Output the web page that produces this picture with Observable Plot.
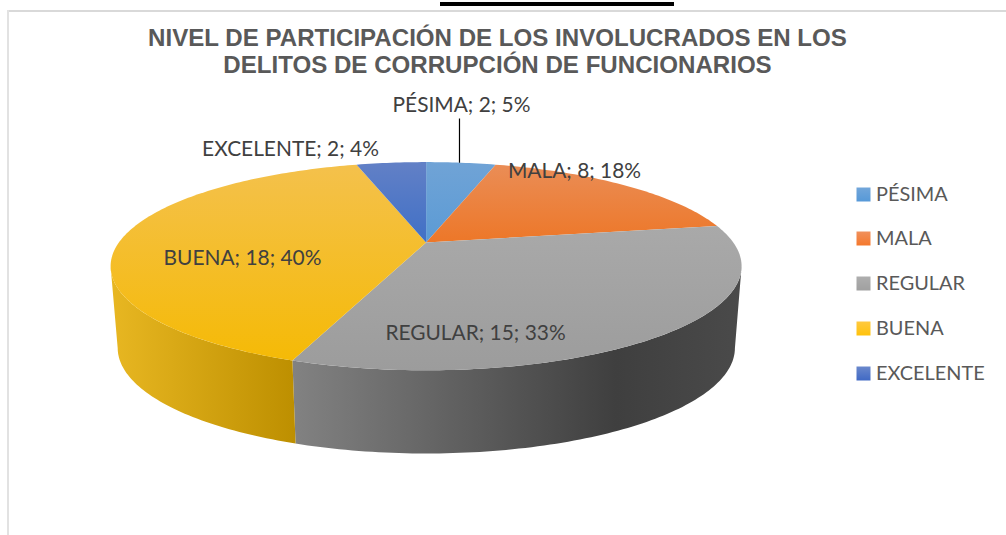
<!DOCTYPE html>
<html lang="es">
<head>
<meta charset="utf-8">
<script src="https://cdn.jsdelivr.net/npm/d3@7"></script>
<script src="https://cdn.jsdelivr.net/npm/@observablehq/plot@0.6"></script>
<style>
html,body{margin:0;padding:0;background:#fff;overflow:hidden}
svg{display:block}
</style>
</head>
<body>
<div id="chart"></div>
<script>
const categories = ["PÉSIMA", "MALA", "REGULAR", "BUENA", "EXCELENTE"];
const counts = [2, 8, 15, 18, 2];
const percents = [5, 18, 33, 40, 4];
const titleLines = ["NIVEL DE PARTICIPACIÓN DE LOS INVOLUCRADOS EN LOS", "DELITOS DE CORRUPCIÓN DE FUNCIONARIOS"];
const topGradients = [["#70a3d6", "#5b9bd5"], ["#ea8d56", "#ed7728"], ["#a9a9a9", "#9c9c9c"], ["#f4c14c", "#f5ba06"], ["#6280c6", "#4070c6"]];
const legendGradients = [["#72a6da", "#5699d8"], ["#f0905c", "#f5782c"], ["#aeaeae", "#a0a0a0"], ["#ffc93f", "#ffc20c"], ["#6a88cc", "#4069c4"]];
const labelAnchors = [[461, 105], [574, 171], [475, 333], [242, 258], [290, 148.5]];
const legendRows = [194, 238, 283, 328, 373];

// Frame of the picture in its own pixel units, used as x/y scale domains
const W = 1006, H = 535;
const top3d = {cx: 425.6, cy: 242, A: 307.2, B: 98.7, k: 0.2277};
const base3d = {cx: 425.8, cy: 323.5, A: 300.5, B: 100, k: 0.2277};
const rad = d => d * Math.PI / 180;
function ring(p, deg) {
  const X = Math.sin(rad(deg)), Y = Math.cos(rad(deg)), q = 1 + p.k * Y;
  return {x: p.cx + p.A * X / q, y: p.cy - p.B * Y / q};
}
function arcPts(p, a, b) {
  const n = Math.max(2, Math.ceil(Math.abs(b - a))), out = [];
  for (let i = 0; i <= n; i++) out.push(ring(p, a + (b - a) * i / n));
  return out;
}
const pie = d3.pie().sort(null).value(d => d)(counts);
const slices = pie.map(s => ({a: s.startAngle * 180 / Math.PI, b: s.endAngle * 180 / Math.PI}));

function gradient(id, stops, horizontal) {
  const g = d3.create("svg:linearGradient").attr("id", id)
    .attr("x1", 0).attr("y1", 0).attr("x2", horizontal ? 1 : 0).attr("y2", horizontal ? 0 : 1);
  stops.forEach((c, i) => g.append("stop").attr("offset", Array.isArray(c) ? c[0] : i / (stops.length - 1)).attr("stop-color", Array.isArray(c) ? c[1] : c));
  return g.node();
}
function defsMark() {
  const d = d3.create("svg:defs");
  topGradients.forEach((c, i) => d.append(() => gradient("top" + i, c)));
  legendGradients.forEach((c, i) => d.append(() => gradient("leg" + i, c)));
  d.append(() => gradient("sideBuena", ["#e8b722", "#bd8f00"], true));
  d.append(() => gradient("sideRegular", [[0, "#828282"], [0.72, "#3f3f3f"], [1, "#4a4a4a"]], true));
  return d.node();
}

// Silhouette angles where the wall stops being visible
const silhouetteR = 103.3, silhouetteL = 256.7;
const sideOf = (a, b) => [...arcPts(top3d, a, b), ...arcPts(base3d, b, a)];
const sides = [
  {pts: sideOf(silhouetteR, slices[2].b), fill: "url(#sideRegular)"},
  {pts: sideOf(slices[3].a, silhouetteL), fill: "url(#sideBuena)"}
];
const topFaces = slices.map((s, i) => ({
  pts: [{x: top3d.cx, y: top3d.cy}, ...arcPts(top3d, s.a, s.b)],
  fill: `url(#top${i})`
}));
const polygon = f => Plot.line(f.pts, {x: "x", y: "y", fill: f.fill, stroke: "none", curve: "linear-closed"});

const labels = categories.map((c, i) => ({
  text: `${c}; ${counts[i]}; ${percents[i]}%`, x: labelAnchors[i][0], y: labelAnchors[i][1]
}));
const legend = categories.map((c, i) => ({c, y: legendRows[i], i}));
const rim = ring(top3d, (slices[0].a + slices[0].b) / 2);
const title = titleLines.map((t, i) => ({t, y: 37.5 + i * 27}));

const chart = Plot.plot({
  width: W, height: H,
  margin: 0,
  x: {domain: [0, W], range: [0, W], axis: null},
  y: {domain: [0, H], range: [0, H], axis: null},
  style: {background: "#fff"},
  marks: [
    defsMark,
    // cut-off underline above the frame and the light frame
    Plot.rect([{x1: 440, x2: 674, y1: 2, y2: 6}], {x1: "x1", x2: "x2", y1: "y1", y2: "y2", fill: "#000"}),
    Plot.rect([{x1: 7, x2: W, y1: 10, y2: 12}], {x1: "x1", x2: "x2", y1: "y1", y2: "y2", fill: "#d9d9d9"}),
    Plot.rect([{x1: 7, x2: 9, y1: 10, y2: H}], {x1: "x1", x2: "x2", y1: "y1", y2: "y2", fill: "#e2e2e2"}),
    ...sides.map(polygon),
    ...topFaces.map(polygon),
    Plot.link([rim], {x1: d => d.x, x2: d => d.x, y1: 118, y2: d => d.y, stroke: "#000", strokeWidth: 1.2, dx: -1.5}),
    Plot.text(title, {x: () => 497, y: "y", text: "t", fontFamily: "Liberation Sans", fontWeight: "bold", fontSize: 24.1, fill: "#595959", textAnchor: "middle"}),
    Plot.text(labels, {x: "x", y: "y", text: "text", fontFamily: "Lato", fontSize: 20.9, fill: "#404040", textAnchor: "middle"}),
    ...legend.map(d => Plot.dot([d], {x: () => 863, y: "y", symbol: "square", r: 7.9, fill: `url(#leg${d.i})`, stroke: "none"})),
    Plot.text(legend, {x: () => 875.5, y: "y", text: "c", fontFamily: "Lato", fontSize: 19.9, fill: "#595959", textAnchor: "start"})
  ]
});
document.getElementById("chart").append(chart);
</script>
</body>
</html>
